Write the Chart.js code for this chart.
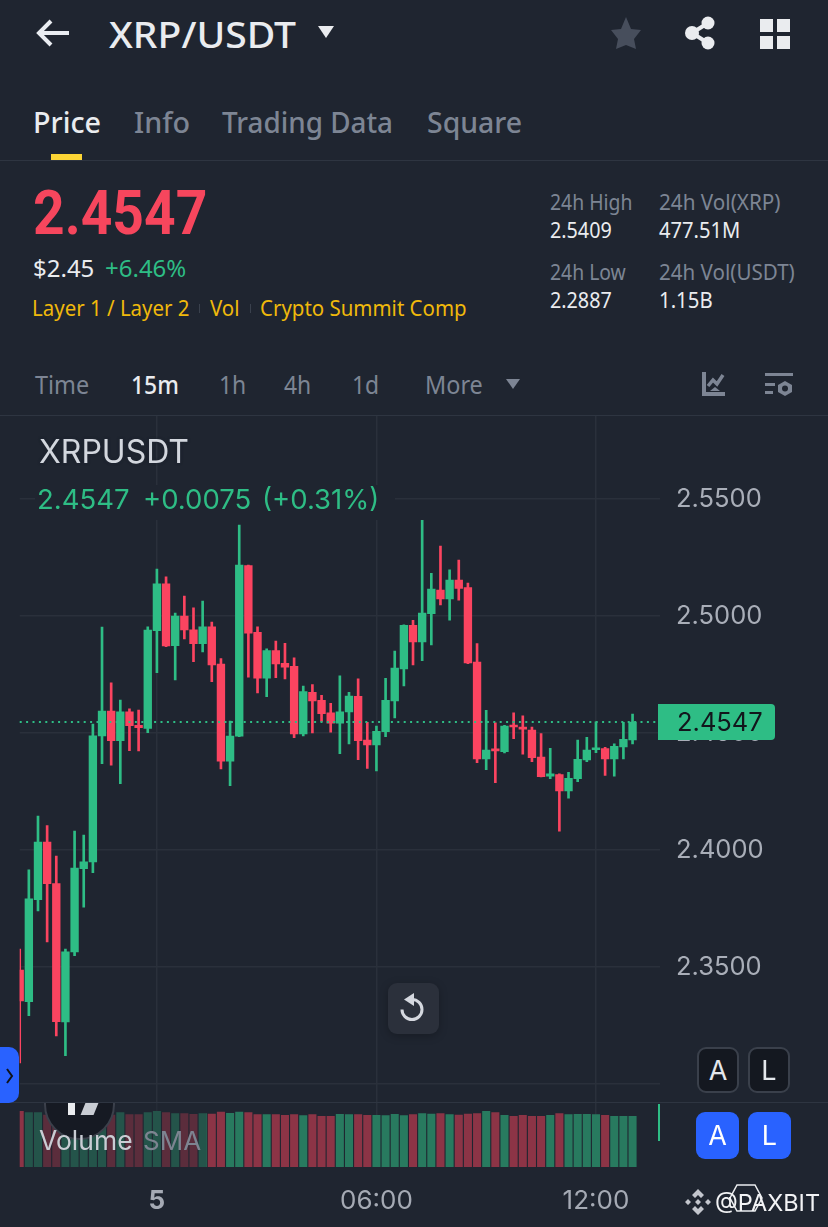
<!DOCTYPE html>
<html lang="en">
<head>
<meta charset="UTF-8">
<title>XRP/USDT</title>
<script src="https://cdn.jsdelivr.net/npm/chart.js"></script>
<style>
    html, body { margin: 0; padding: 0; background: #1f2530; }
    body { position: relative; width: 828px; height: 1227px; overflow: hidden; font-family: "Noto Sans", sans-serif; }
    .t { position: absolute; white-space: nowrap; transform-origin: 0 50%; transform: translateY(-50%) scaleX(var(--x, 1)); color: #7d8594; font-size: 26px; line-height: 1.2; }
    .chart-text { font-family: Inter, sans-serif; }
    .box { position: absolute; }
    svg { position: absolute; }
    #chartWrap { position: absolute; left: 0; top: 416px; width: 828px; height: 811px; }
    .btn { position: absolute; box-sizing: border-box; border-radius: 9px; color: #e4e7ec; font: 27px Inter, sans-serif; display: flex; align-items: center; justify-content: center; }
</style>
</head>
<body>
<!-- header -->
<svg style="left:36px;top:18px" width="36" height="30" viewBox="0 0 36 30"><path d="M33 15H4M15 3L3 15l12 12" fill="none" stroke="#e9ecf1" stroke-width="4"/></svg>
<div class="t" style="left:109px;top:35px;font-size:36px;color:#eaecef;font-weight:500;--x:1.085">XRP/USDT</div>
<svg style="left:318px;top:26px" width="16" height="12"><path d="M0 0h16L8 12z" fill="#eaecef"/></svg>
<svg style="left:610px;top:16px" width="32" height="34" viewBox="0 0 32 34"><path d="M16 1l5 12 10 1-7 9 2 10-10-4-10 4 2-10-7-9 10-1z" fill="#474e5c"/></svg>
<svg style="left:684px;top:16px" width="32" height="34" viewBox="0 0 32 34"><path d="M24 7L8 17l16 10" fill="none" stroke="#eaecef" stroke-width="4"/><circle cx="24" cy="7" r="6.5" fill="#eaecef"/><circle cx="8" cy="17" r="7" fill="#eaecef"/><circle cx="24" cy="27" r="6.5" fill="#eaecef"/></svg>
<svg style="left:760px;top:19px" width="30" height="30"><path d="M0 0h13v13H0zM17 0h13v13H17zM0 17h13v13H0zM17 17h13v13H17z" fill="#eaecef"/></svg>

<div class="t" style="left:33px;top:122px;font-size:29px;color:#eaecef;font-weight:500;--x:.99">Price</div>
<div class="t" style="left:134px;top:122px;font-size:29px;font-weight:500;--x:.99">Info</div>
<div class="t" style="left:222px;top:122px;font-size:29px;font-weight:500;--x:.96">Trading Data</div>
<div class="t" style="left:427px;top:122px;font-size:29px;font-weight:500;--x:.98">Square</div>
<div class="box" style="left:51px;top:154px;width:31px;height:6px;background:#fcd535"></div>
<div class="box" style="left:0;top:160px;width:828px;height:1px;background:#2e3541"></div>

<!-- price block -->
<div class="t" style="left:33px;top:213px;font-family:Roboto,sans-serif;font-size:62px;font-weight:700;color:#f6465d;--x:.89">2.4547</div>
<div class="t" style="left:33px;top:268px;font-size:24px;color:#eaecef;--x:1">$2.45</div>
<div class="t" style="left:105px;top:268px;font-size:24px;color:#2ebd85;--x:1">+6.46%</div>
<div class="t" style="left:32px;top:307px;font-size:22px;color:#f0b90b;--x:.93">Layer 1 / Layer 2</div>
<div class="box" style="left:199px;top:304px;width:1px;height:9px;background:#3a414d"></div>
<div class="t" style="left:210px;top:307px;font-size:22px;color:#f0b90b;--x:.93">Vol</div>
<div class="box" style="left:250px;top:304px;width:1px;height:9px;background:#3a414d"></div>
<div class="t" style="left:260px;top:307px;font-size:22px;color:#f0b90b;--x:.93">Crypto Summit Comp</div>

<div class="t" style="left:550px;top:201px;font-size:22px;--x:.88">24h High</div>
<div class="t" style="left:550px;top:231px;font-size:21px;color:#eaecef;--x:.94">2.5409</div>
<div class="t" style="left:550px;top:271px;font-size:22px;--x:.88">24h Low</div>
<div class="t" style="left:550px;top:301px;font-size:21px;color:#eaecef;--x:.94">2.2887</div>
<div class="t" style="left:659px;top:201px;font-size:22px;--x:.94">24h Vol(XRP)</div>
<div class="t" style="left:659px;top:231px;font-size:21px;color:#eaecef;--x:.96">477.51M</div>
<div class="t" style="left:659px;top:271px;font-size:22px;--x:.935">24h Vol(USDT)</div>
<div class="t" style="left:659px;top:301px;font-size:21px;color:#eaecef;--x:.97">1.15B</div>

<!-- interval row -->
<div class="t" style="left:35px;top:385px;--x:.9">Time</div>
<div class="t" style="left:131px;top:385px;color:#eaecef;font-weight:500;--x:.88">15m</div>
<div class="t" style="left:219px;top:385px;--x:.88">1h</div>
<div class="t" style="left:284px;top:385px;--x:.88">4h</div>
<div class="t" style="left:352px;top:385px;--x:.88">1d</div>
<div class="t" style="left:425px;top:385px;--x:.9">More</div>
<svg style="left:506px;top:379px" width="14" height="10"><path d="M0 0h14L7 10z" fill="#7d8594"/></svg>
<svg style="left:702px;top:372px" width="24" height="24"><path d="M2 0v22h21" fill="none" stroke="#7d8594" stroke-width="4"/><path d="M6 14l5-6 4 4 6-9" fill="none" stroke="#7d8594" stroke-width="3.5"/><path d="M8 19l5-4 5 4z" fill="#7d8594"/></svg>
<svg style="left:765px;top:372px" width="28" height="26"><path d="M0 1h28v3H0zM0 11h10v3H0zM0 19h8v3H0z" fill="#7d8594"/><path d="M20 9l7 4v7l-7 4-7-4v-7z" fill="#7d8594"/><circle cx="20" cy="16.500" r="3" fill="#1f2530"/></svg>
<div class="box" style="left:0;top:415px;width:828px;height:1px;background:#2e3541"></div>

<div id="chartWrap"><canvas id="klineChart" width="828" height="811"></canvas></div>

<!-- overlays on top of the chart -->
<div class="box" style="left:0;top:1102px;width:828px;height:1px;background:#2e3541"></div>
<div class="t chart-text" style="left:39px;top:452px;font-size:32px;color:#d3d7de;text-shadow:0 0 3px #1f2530,0 0 3px #1f2530">XRPUSDT</div>
<div class="box" style="left:35px;top:485px;width:360px;height:35px;background:#1f2530"></div>
<div class="t chart-text" style="left:37px;top:499px;font-size:27.5px;color:#2ebd85">2.4547</div>
<div class="t chart-text" style="left:143px;top:499px;font-size:27.5px;color:#2ebd85">+0.0075</div>
<div class="t chart-text" style="left:262px;top:499px;font-size:27.5px;color:#2ebd85">(+0.31%)</div>

<div class="box" style="left:24px;top:1103px;width:182px;height:64px;background:rgba(31,37,48,.45)"></div>
<div class="box" style="left:44px;top:1103px;width:71px;height:37px;overflow:hidden">
    <div class="box" style="left:0;top:-34px;width:71px;height:71px;box-sizing:border-box;border-radius:50%;background:#161a23;border:2px solid #3b404b"></div>
    <div class="box" style="left:24px;top:0;width:7px;height:12px;background:#eaecef"></div>
    <div class="box" style="left:39px;top:0;width:13px;height:12px;background:#c9cdd4;transform:skewX(-22deg)"></div>
</div>
<div class="t chart-text" style="left:39px;top:1141px;font-size:26.5px;color:#c9cdd4">Volume</div>
<div class="t chart-text" style="left:143px;top:1141px;font-size:26px;color:#7d8491">SMA</div>
<div class="box" style="left:657.500px;top:1104px;width:2px;height:37px;background:#2ebd85"></div>

<div class="box" style="left:0;top:1047px;width:19px;height:56px;background:#2962ff;border-radius:0 10px 10px 0"></div>
<svg style="left:5px;top:1068px" width="10" height="16"><path d="M2 1l5 7-5 7" fill="none" stroke="#10131a" stroke-width="2"/></svg>

<div class="box" style="left:388px;top:983px;width:51px;height:51px;border-radius:9px;background:#2b303b;box-shadow:0 2px 8px rgba(0,0,0,.25)"></div>
<svg style="left:398px;top:993px" width="30" height="32" viewBox="0 0 30 32"><path d="M14 6.500a10 10 0 1 1-10 10" fill="none" stroke="#d5d8df" stroke-width="3"/><path d="M16 0v13L6 6.500z" fill="#d5d8df"/></svg>

<div class="btn" style="left:697px;top:1047px;width:42px;height:46px;background:#141820;border:2px solid #3a404b">A</div>
<div class="btn" style="left:748px;top:1047px;width:42px;height:46px;background:#141820;border:2px solid #3a404b">L</div>
<div class="btn" style="left:696px;top:1112px;width:43px;height:47px;background:#2962ff;color:#fff">A</div>
<div class="btn" style="left:748px;top:1112px;width:43px;height:47px;background:#2962ff;color:#fff">L</div>

<svg style="left:684px;top:1188px" width="28" height="28" viewBox="0 0 28 28"><path d="M14 1l6 6-3 3-3-3-3 3-3-3zM14 27l6-6-3-3-3 3-3-3-3 3zM4 11l3 3-3 3-3-3zM24 11l3 3-3 3-3-3zM14 11l3 3-3 3-3-3z" fill="#c3c6cd"/></svg>
<svg style="left:728px;top:1184px" width="36" height="28"><path d="M9 1h18l7 13-7 13H9L2 14z" fill="none" stroke="#eaecef" stroke-width="1.500"/></svg>
<div class="t chart-text" style="left:715px;top:1203px;font-size:23.5px;color:#f2f3f5">@PAXBIT</div>

<script>
    // 15m candles
    const timeLabels = [
        '20:15','20:30','20:45','21:00','21:15','21:30','21:45','22:00','22:15','22:30',
        '22:45','23:00','23:15','23:30','23:45','5','00:15','00:30','00:45','01:00',
        '01:15','01:30','01:45','02:00','02:15','02:30','02:45','03:00','03:15','03:30',
        '03:45','04:00','04:15','04:30','04:45','05:00','05:15','05:30','05:45','06:00',
        '06:15','06:30','06:45','07:00','07:15','07:30','07:45','08:00','08:15','08:30',
        '08:45','09:00','09:15','09:30','09:45','10:00','10:15','10:30','10:45','11:00',
        '11:15','11:30','11:45','12:00','12:15','12:30','12:45','13:00','13:15','13:30','13:45'
    ];
    const opens = [
        2.3487,2.3352,2.3788,2.4034,2.3856,2.3265,2.3564,2.3920,2.3949,2.4487,
        2.4594,2.4467,2.4591,2.4533,2.4520,2.4937,2.5137,2.4873,2.5000,2.4941,
        2.4882,2.4954,2.4795,2.4380,2.4486,2.5215,2.4930,2.4734,2.4852,2.4798,
        2.4785,2.4496,2.4674,2.4640,2.4586,2.4542,2.4590,2.4657,2.4470,2.4449,
        2.4506,2.4637,2.4774,2.4960,2.4889,2.5010,2.5111,2.5073,2.5154,2.5121,
        2.4803,2.4389,2.4432,2.4420,2.4534,2.4525,2.4513,2.4397,2.4316,2.4322,
        2.4253,2.4305,2.4385,2.4429,2.4433,2.4389,2.4440,2.4470
    ];
    const closes = [
        2.3355,2.3791,2.4034,2.3856,2.3266,2.3565,2.3923,2.3949,2.4488,2.4594,
        2.4467,2.4591,2.4531,2.4523,2.4940,2.5137,2.4872,2.5000,2.4940,2.4882,
        2.4954,2.4791,2.4380,2.4487,2.5218,2.4927,2.4734,2.4852,2.4795,2.4781,
        2.4496,2.4677,2.4637,2.4583,2.4542,2.4591,2.4658,2.4467,2.4449,2.4507,
        2.4640,2.4777,2.4960,2.4889,2.5012,2.5115,2.5073,2.5154,2.5118,2.4800,
        2.4389,2.4427,2.4423,2.4530,2.4526,2.4516,2.4395,2.4313,2.4325,2.4253,
        2.4306,2.4388,2.4427,2.4437,2.4389,2.4443,2.4473,2.4547
    ];
    const highs = [
        2.3577,2.3915,2.4145,2.4104,2.3974,2.3577,2.4081,2.4064,2.4538,2.4953,
        2.4714,2.4641,2.4603,2.4598,2.4954,2.5201,2.5167,2.5013,2.5085,2.5035,
        2.5064,2.4974,2.4818,2.4551,2.5389,2.5218,2.4954,2.4860,2.4893,2.4883,
        2.4821,2.4700,2.4707,2.4661,2.4627,2.4744,2.4674,2.4731,2.4546,2.4530,
        2.4734,2.4850,2.4962,2.4982,2.5409,2.5182,2.5299,2.5197,2.5239,2.5141,
        2.4882,2.4597,2.4543,2.4533,2.4586,2.4573,2.4525,2.4497,2.4435,2.4325,
        2.4332,2.4470,2.4482,2.4548,2.4439,2.4454,2.4546,2.4581
    ];
    const lows = [
        2.3090,2.3292,2.3740,2.3607,2.3205,2.3121,2.3548,2.3756,2.3903,2.4369,
        2.4363,2.4283,2.4424,2.4423,2.4501,2.4758,2.4869,2.4727,2.4902,2.4805,
        2.4846,2.4719,2.4346,2.4275,2.4484,2.4739,2.4671,2.4655,2.4736,2.4731,
        2.4480,2.4488,2.4500,2.4550,2.4504,2.4412,2.4453,2.4386,2.4349,2.4338,
        2.4484,2.4564,2.4701,2.4791,2.4809,2.4876,2.5047,2.4982,2.5068,2.4796,
        2.4373,2.4343,2.4288,2.4415,2.4476,2.4410,2.4378,2.4312,2.4305,2.4081,
        2.4222,2.4292,2.4378,2.4416,2.4319,2.4316,2.4389,2.4453
    ];
    const volumes = [
        55.7,54.3,54.3,52.0,52.0,52.0,52.0,52.0,52.0,52.0,
        52.0,54.3,52.3,52.3,54.3,55.7,54.3,53.3,53.3,52.7,
        53.3,53.0,55.0,53.7,55.0,54.3,52.3,52.3,52.3,51.7,
        52.3,51.3,52.3,50.7,50.7,52.7,52.3,52.3,51.7,51.7,
        51.3,52.7,51.3,52.3,53.3,53.0,53.3,52.3,52.0,53.0,
        53.3,55.7,54.3,51.7,50.7,51.7,50.7,50.7,51.7,53.3,
        52.3,52.7,52.7,52.3,51.7,50.7,50.7,50.7
    ];
    const priceTicks = [2.55, 2.5, 2.45, 2.4, 2.35, 2.3];
    const timeTicks = ['5', '06:00', '12:00'];
    const lastPrice = 2.4547;

    const UP = '#2ebd85';
    const DOWN = '#fb4460';
    const GRID = '#2a303b';

    const isUp = closes.map((c, i) => c >= opens[i]);
    const candleColors = isUp.map(u => (u ? UP : DOWN));
    const volColors = isUp.map(u => (u ? '#287a5f' : '#8c3446'));

    // price tag at the right end of the last-price line
    const lastPriceTag = {
        id: 'lastPriceTag',
        afterDraw(chart) {
            const c = chart.ctx;
            const y = chart.scales.y.getPixelForValue(lastPrice);
            c.save();
            c.fillStyle = UP;
            c.beginPath();
            c.roundRect(658, y - 18, 117, 36, [0, 4, 4, 0]);
            c.fill();
            c.fillStyle = '#12161c';
            c.font = '25.5px Inter, sans-serif';
            c.textAlign = 'left';
            c.textBaseline = 'middle';
            c.fillText(lastPrice.toFixed(4), 677, y + 1);
            c.restore();
        }
    };

    const ctx = document.getElementById('klineChart').getContext('2d');
    const klineChart = new Chart(ctx, {
        data: {
            labels: timeLabels,
            datasets: [
                {
                    type: 'line',
                    label: 'Last price',
                    data: timeLabels.map(() => lastPrice),
                    yAxisID: 'y',
                    borderColor: UP,
                    borderWidth: 2,
                    borderDash: [2, 4.4],
                    pointRadius: 0,
                    order: 0
                },
                {
                    type: 'bar',
                    label: 'Body',
                    data: opens.map((o, i) => [o, closes[i]]),
                    yAxisID: 'y',
                    backgroundColor: candleColors,
                    barThickness: 7.7,
                    grouped: false,
                    order: 1
                },
                {
                    type: 'bar',
                    label: 'Wick',
                    data: lows.map((l, i) => [l, highs[i]]),
                    yAxisID: 'y',
                    backgroundColor: candleColors,
                    barThickness: 2,
                    grouped: false,
                    order: 2
                },
                {
                    type: 'bar',
                    label: 'Volume',
                    data: volumes,
                    yAxisID: 'yVol',
                    backgroundColor: volColors,
                    barThickness: 7.4,
                    grouped: false,
                    order: 3
                }
            ]
        },
        options: {
            responsive: false,
            animation: false,
            layout: { padding: { left: 19.7, top: 0, right: 0, bottom: 0 } },
            plugins: { legend: { display: false }, tooltip: { enabled: false } },
            scales: {
                x: {
                    type: 'category',
                    offset: false,
                    border: { display: false },
                    grid: { color: GRID, lineWidth: 1.5, drawTicks: false, offset: false },
                    afterBuildTicks(s) {
                        s.ticks = s.ticks.filter(t => timeTicks.includes(timeLabels[t.value]));
                    },
                    afterFit(s) {
                        s.height = 60;
                        s.paddingLeft = 0;
                        s.paddingRight = 0;
                    },
                    ticks: {
                        autoSkip: false,
                        maxRotation: 0,
                        padding: 19,
                        color: '#a5aab4',
                        font: c => (c.tick && c.tick.label === '5'
                            ? { family: 'Inter, sans-serif', size: 26, weight: '700' }
                            : { family: 'Inter, sans-serif', size: 26 })
                    }
                },
                y: {
                    position: 'right',
                    min: 2.26453,
                    max: 2.58547,
                    border: { display: false },
                    grid: { color: GRID, lineWidth: 1.5, drawTicks: false },
                    afterBuildTicks(s) {
                        s.ticks = priceTicks.map(v => ({ value: v }));
                    },
                    afterFit(s) {
                        s.width = 168;
                        s.paddingTop = 0;
                        s.paddingBottom = 0;
                    },
                    ticks: {
                        padding: 16,
                        color: '#a9aeb8',
                        font: { family: 'Inter, sans-serif', size: 25.5 },
                        callback: v => (v === 2.3 ? '' : v.toFixed(4))
                    }
                },
                yVol: {
                    display: false,
                    position: 'left',
                    min: 0,
                    max: 751
                }
            }
        },
        plugins: [lastPriceTag]
    });
</script>
</body>
</html>
